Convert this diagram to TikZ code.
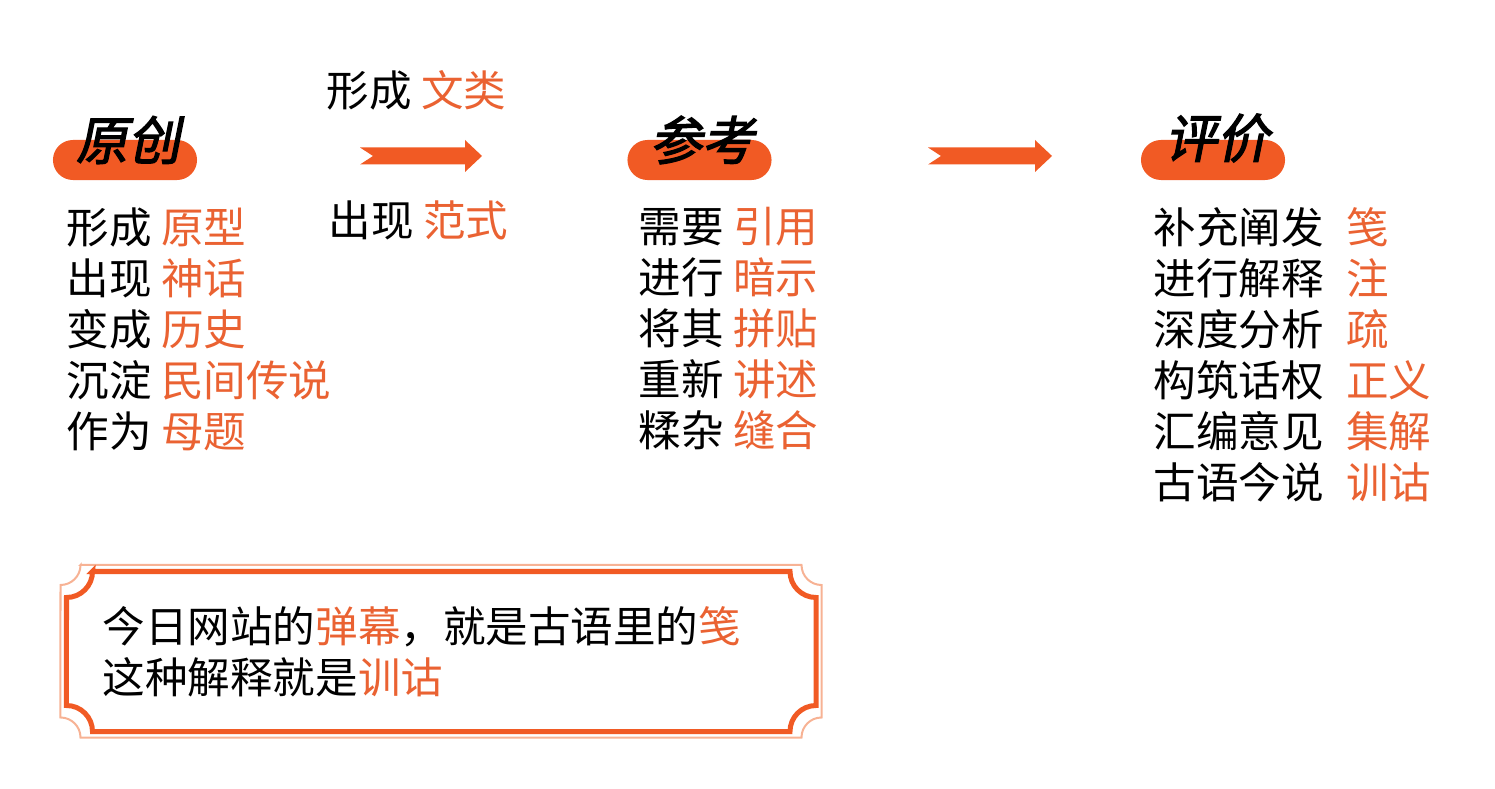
\documentclass[tikz,border=0pt]{standalone}
\usepackage{fontspec}
\setmainfont{Noto Sans CJK SC}
\newfontfamily\headfont[FakeSlant=0.2,FakeBold=2.5]{Noto Sans CJK SC}
\usepackage{tikz}
\usetikzlibrary{calc}
\definecolor{accent}{RGB}{241, 90, 36}
\definecolor{hilite}{RGB}{234, 98, 50}
\definecolor{rim}{RGB}{247, 178, 148}
\newcommand{\hl}[1]{\textcolor{hilite}{#1}}
\newcommand{\blockarrow}[2]{
    \fill[accent] ($(#1)+(0,8.5)$) -- ($(#2)+(-17,8.5)$) -- ($(#2)+(-17,16)$) -- (#2)
        -- ($(#2)+(-17,-16)$) -- ($(#2)+(-17,-8.5)$) -- ($(#1)+(0,-8.5)$) -- ($(#1)+(13,0)$) -- cycle;
}
\tikzstyle{pill} = [rectangle, rounded corners=0.2cm, minimum width=1.44cm, minimum height=0.4cm, fill=accent, inner sep=0]
\tikzstyle{heading} = [font=\headfont\fontsize{14.8}{16}\selectfont, inner sep=0]
\tikzstyle{item} = [font=\fontsize{12.1}{14.5}\selectfont, align=left, inner sep=0, anchor=north west]

\begin{document}
\begin{tikzpicture}[x=0.01cm, y=0.01cm]
    \useasboundingbox (0,0) rectangle (1495,-789);

    % Headings
    \node[pill] (p1) at (125,-160) {};
    \node[heading] (h1) at (128,-140) {原创};
    \node[pill] (p2) at (699.5,-160) {};
    \node[heading] (h2) at (702,-140) {参考};
    \node[pill] (p3) at (1213,-160) {};
    \node[heading] (h3) at (1217,-138) {评价};

    % Arrows
    \coordinate (a1) at (360,-156);
    \coordinate (b1) at (482,-156);
    \blockarrow{a1}{b1}
    \coordinate (a2) at (928,-156);
    \coordinate (b2) at (1052,-156);
    \blockarrow{a2}{b2}

    % Labels round the first arrow
    \node[item, anchor=west] (f1) at (326,-90) {形成 \hl{文类}};
    \node[item, anchor=west] (f2) at (328,-220) {出现 \hl{范式}};

    % Columns
    \node[item] (col1) at (66,-206.7) {形成 \hl{原型}\\出现 \hl{神话}\\变成 \hl{历史}\\沉淀 \hl{民间传说}\\作为 \hl{母题}};
    \node[item] (col2) at (638,-206.7) {需要 \hl{引用}\\进行 \hl{暗示}\\将其 \hl{拼贴}\\重新 \hl{讲述}\\糅杂 \hl{缝合}};
    \node[item] (col3) at (1153,-206.7) {补充阐发\hspace{0.52em}\hl{笺}\\进行解释\hspace{0.52em}\hl{注}\\深度分析\hspace{0.52em}\hl{疏}\\构筑话权\hspace{0.52em}\hl{正义}\\汇编意见\hspace{0.52em}\hl{集解}\\古语今说\hspace{0.52em}\hl{训诂}};

    % Note box
    \draw[rim, line width=0.02cm] (80.5,-565) -- (801.5,-565) arc[start angle=180, end angle=270, radius=0.2cm]
        -- (821.5,-717.5) arc[start angle=90, end angle=180, radius=0.2cm]
        -- (80.5,-737.5) arc[start angle=0, end angle=90, radius=0.2cm]
        -- (60.5,-585) arc[start angle=270, end angle=360, radius=0.2cm] -- cycle;
    \draw[accent, line width=0.05cm] (92.5,-571.5) -- (790,-571.5) arc[start angle=180, end angle=270, radius=0.26cm]
        -- (816,-705.5) arc[start angle=90, end angle=180, radius=0.26cm]
        -- (92.5,-731.5) arc[start angle=0, end angle=90, radius=0.26cm]
        -- (66.5,-597.5) arc[start angle=270, end angle=360, radius=0.26cm] -- cycle;
    \node[item, anchor=west] (note) at (102,-651.5) {今日网站的\hl{弹幕}，就是古语里的\hl{笺}\\这种解释就是\hl{训诂}};
\end{tikzpicture}
\end{document}
